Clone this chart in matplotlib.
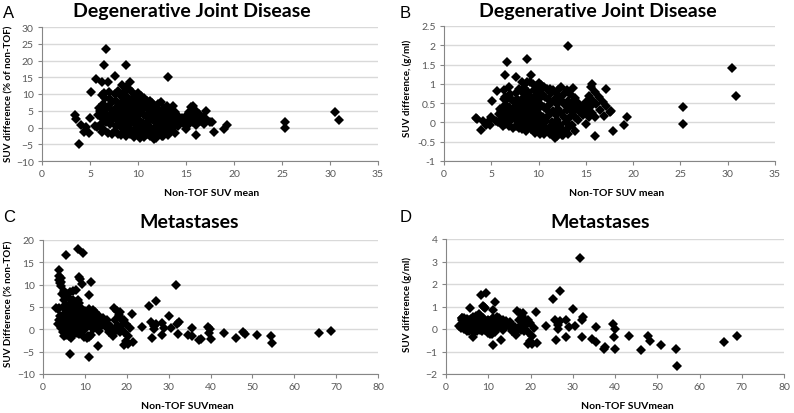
import numpy as np
import matplotlib
matplotlib.use("Agg")
import matplotlib.pyplot as plt

# Degenerative joint disease lesions: non-TOF SUV mean, % difference, absolute difference
djd_suv_mean = [
    3.4, 3.5, 3.9, 4.1, 4.4, 4.6, 4.9, 5.1, 5.0, 5.5, 5.7, 5.6, 5.9, 5.8, 6.3,
    6.5, 6.7, 6.9, 6.3, 6.5, 6.6, 6.7, 6.2, 7.6, 8.3, 8.8, 9.2, 13.1, 25.3, 25.3,
    30.5, 30.9, 19.0, 19.3, 17.9, 17.7, 16.0, 17.1, 15.7, 15.5, 11.7, 12.6, 13.9,
    6.0, 6.1, 6.0, 6.4, 6.5, 6.6, 6.4,
    7.0, 7.1, 6.9, 7.0, 7.1, 6.9,
    7.3, 7.4, 7.3, 7.3,
    7.6, 7.7, 7.6, 7.5, 7.7, 7.6,
    7.9, 8.0, 7.9, 8.0, 7.9,
    8.2, 8.3, 8.2, 8.1, 8.3, 8.2,
    8.5, 8.6, 8.5, 8.4, 8.6, 8.5,
    8.8, 8.9, 8.8, 8.7, 8.9, 8.8, 8.7,
    9.1, 9.0, 9.2, 9.1, 9.0, 9.2,
    9.4, 9.5, 9.4, 9.3, 9.5, 9.4, 9.6,
    9.7, 9.8, 9.7, 9.6, 9.8, 9.7,
    10.0, 10.1, 10.0, 9.9, 10.1, 10.0, 10.2,
    10.3, 10.4, 10.3, 10.2, 10.4, 10.3,
    10.6, 10.7, 10.6, 10.5, 10.7, 10.6,
    10.9, 11.0, 10.9, 10.8, 11.0,
    11.2, 11.3, 11.2, 11.1, 11.3, 11.2,
    11.5, 11.6, 11.5, 11.4, 11.6,
    11.8, 11.9, 11.8, 11.7, 11.9,
    12.1, 12.2, 12.1, 12.0, 12.2,
    12.4, 12.5, 12.4, 12.3, 12.5,
    12.7, 12.8, 12.7, 12.6,
    13.0, 13.1, 13.0, 12.9, 13.1,
    13.3, 13.4, 13.3, 13.2,
    13.6, 13.7, 13.6, 13.5,
    13.9, 14.0, 13.9,
    14.2, 14.3, 14.2,
    14.6, 14.7,
    15.0, 15.1, 15.0,
    15.3, 15.4, 15.3,
    15.8, 15.7,
    16.0, 16.1, 16.0,
    16.4, 16.5,
    16.8, 16.9, 17.1, 17.5,
]
djd_diff_pct = [
    3.6, 2.6, -4.9, 0.8, -1.3, 0.2, -1.5, 10.7, 2.8, 0.5, 0.1, 14.5, 5.8, 3.6, 13.5,
    18.8, 23.5, 13.5, 9.8, 10.2, 8.8, 1.5, -1.4, 15.5, 12.7, 18.7, 13.5, 15.2, 1.6, -0.1,
    4.6, 2.2, -0.3, 0.7, -1.3, 1.7, -2.2, 5.0, 6.4, 6.0, -3.4, -2.5, -1.6,
    5.0, 3.2, 0.8, 7.0, 4.5, 2.0, -0.5,
    10.5, 8.5, 6.0, 3.5, 1.0, -1.5,
    7.5, 4.8, 2.2, -2.0,
    10.0, 8.0, 5.5, 3.0, 0.5, -1.0,
    11.0, 6.8, 4.0, 1.5, -1.8,
    9.5, 7.5, 5.0, 2.5, 0.0, -2.2,
    10.5, 8.5, 6.0, 3.5, 1.0, -1.2,
    12.0, 9.0, 7.0, 4.5, 2.0, -0.5, -2.6,
    11.5, 8.0, 5.5, 3.0, 0.5, -1.8,
    10.5, 8.8, 6.5, 4.0, 1.5, -1.0, -2.8,
    9.8, 7.5, 5.0, 2.5, 0.0, -2.2,
    10.2, 8.5, 6.0, 3.5, 1.0, -1.5, -3.0,
    9.5, 7.0, 4.5, 2.0, -0.5, -2.5,
    8.8, 6.2, 3.8, 1.2, -1.2, -2.8,
    8.0, 5.5, 3.0, 0.5, -2.0,
    7.8, 6.8, 4.2, 1.8, -0.8, -2.6,
    7.2, 5.0, 2.5, 0.0, -1.8,
    6.5, 4.0, 1.5, -1.0, -3.0,
    7.0, 5.2, 3.0, 0.5, -2.0,
    7.5, 4.5, 2.0, -0.5, -2.6,
    5.8, 3.5, 1.0, -1.5,
    6.5, 4.2, 2.5, 0.0, -2.2,
    5.5, 3.0, 1.0, -1.0,
    6.5, 4.0, 2.0, -0.5,
    4.5, 3.0, 1.0,
    3.5, 2.0, 0.5,
    2.8, 1.2,
    3.5, 2.0, -0.3,
    4.5, 2.5, 1.0,
    3.5, 1.5,
    5.0, 3.0, 0.8,
    4.0, 2.0,
    3.2, 1.0, 2.5, 1.5,
]
djd_diff_abs = [
    0.12, 0.09, -0.19, 0.03, -0.06, 0.01, -0.07, 0.55, 0.14, 0.03, 0.01, 0.81, 0.34, 0.21, 0.85,
    1.22, 1.57, 0.93, 0.62, 0.66, 0.58, 0.10, -0.09, 1.18, 1.05, 1.65, 1.24, 1.99, 0.40, -0.03,
    1.40, 0.68, -0.06, 0.14, -0.23, 0.30, -0.35, 0.86, 1.00, 0.93, -0.40, -0.32, -0.22,
    0.30, 0.20, 0.05, 0.45, 0.29, 0.13, -0.03,
    0.74, 0.60, 0.41, 0.25, 0.07, -0.10,
    0.55, 0.36, 0.16, -0.15,
    0.76, 0.62, 0.42, 0.23, 0.04, -0.08,
    0.87, 0.54, 0.32, 0.12, -0.14,
    0.78, 0.62, 0.41, 0.20, 0.00, -0.18,
    0.89, 0.73, 0.51, 0.29, 0.09, -0.10,
    1.06, 0.80, 0.62, 0.39, 0.18, -0.04, -0.23,
    1.05, 0.72, 0.51, 0.27, 0.05, -0.17,
    0.99, 0.84, 0.61, 0.37, 0.14, -0.09, -0.27,
    0.95, 0.74, 0.49, 0.24, 0.00, -0.21,
    1.02, 0.86, 0.60, 0.35, 0.10, -0.15, -0.31,
    0.98, 0.73, 0.46, 0.20, -0.05, -0.26,
    0.93, 0.66, 0.40, 0.13, -0.13, -0.30,
    0.87, 0.61, 0.33, 0.05, -0.22,
    0.87, 0.77, 0.47, 0.20, -0.09, -0.29,
    0.83, 0.58, 0.29, 0.00, -0.21,
    0.77, 0.48, 0.18, -0.12, -0.36,
    0.85, 0.63, 0.36, 0.06, -0.24,
    0.93, 0.56, 0.25, -0.06, -0.33,
    0.74, 0.45, 0.13, -0.19,
    0.85, 0.55, 0.33, 0.00, -0.29,
    0.73, 0.40, 0.13, -0.13,
    0.88, 0.55, 0.27, -0.07,
    0.63, 0.42, 0.14,
    0.50, 0.29, 0.07,
    0.41, 0.18,
    0.53, 0.30, -0.05,
    0.69, 0.39, 0.15,
    0.55, 0.24,
    0.80, 0.48, 0.13,
    0.66, 0.33,
    0.54, 0.17, 0.43, 0.26,
]

# Metastases: non-TOF SUVmean, % difference, absolute difference
met_suv_mean = [
    68.8, 65.8, 54.4, 54.6, 51.0, 48.3, 47.7, 46.2, 43.3, 39.5, 39.9, 39.7, 40.0,
    37.3, 37.7, 35.5, 35.5, 34.6, 32.5, 32.1, 32.3, 31.7, 30.1, 30.5, 28.4, 29.0,
    28.4, 26.9, 25.4, 25.9, 27.1, 26.6, 26.1, 26.5, 23.6, 21.2, 21.6, 20.8, 20.3,
    19.4, 5.6, 8.4, 9.5, 11.5, 11.1, 6.5, 11.1, 13.1, 8.7, 9.3, 8.9,
    3.0, 3.5, 3.6, 3.8, 3.9, 3.8, 4.0, 3.9, 3.8,
    4.2, 4.3, 4.2, 4.1, 4.3, 4.2,
    4.6, 4.7, 4.6, 4.5, 4.7,
    5.0, 5.1, 5.0, 4.9, 5.1, 5.0,
    5.4, 5.5, 5.4, 5.3, 5.5,
    5.8, 5.9, 5.8, 5.7,
    6.2, 6.3, 6.2, 6.1, 6.3, 6.2,
    6.5, 6.6, 6.5, 6.4,
    6.8, 6.9, 6.8, 6.7,
    7.1, 7.2, 7.1, 7.0,
    7.5, 7.6, 7.5, 7.4,
    7.8, 7.9, 7.8, 7.7, 7.9,
    8.1, 8.2, 8.1, 8.0,
    8.4, 8.5, 8.4,
    8.7, 8.8, 8.7, 8.6,
    9.0, 9.1, 9.0,
    9.3, 9.4, 9.3,
    9.7, 9.8,
    10.0, 10.1, 10.0, 9.9,
    10.4, 10.5, 10.4,
    10.8, 10.9, 10.8,
    11.1, 11.2, 11.0,
    11.5, 11.6, 11.5,
    12.0, 12.1, 12.0,
    12.5, 12.6,
    13.0, 13.1,
    13.4, 13.4,
    13.8, 13.9,
    14.3, 14.4, 14.8,
    15.2, 15.3, 15.6, 15.7,
    16.3, 16.4, 16.6, 16.6, 16.9,
    17.3, 17.3, 17.6, 17.7,
    18.0, 18.1, 18.3, 18.4,
    18.8, 18.9, 19.4, 19.3, 19.9, 19.9, 20.4,
]
met_diff_pct = [
    -0.45, -0.9, -1.6, -3.0, -1.35, -1.1, -0.65, -2.0, -0.75, 0.6, 0.05, -0.85, -2.2,
    -2.35, -2.15, 0.2, -1.6, -1.3, 1.7, 1.2, -1.1, 10.0, 3.0, 0.4, 1.4, 0.35,
    -1.3, 6.3, 5.3, 1.6, 1.3, 0.05, -1.9, 0.7, 0.6, 3.5, -2.9, 0.2, -3.3,
    -3.5, 16.6, 17.9, 17.1, 10.5, 7.6, -5.6, -6.3, -3.8, 11.8, 10.1, 11.2,
    4.7, 4.5, 1.2, 13.3, 12.0, 11.0, 10.3, 4.8, 2.0,
    11.5, 10.5, 9.8, 3.0, 1.0, 0.3,
    8.0, 5.0, 2.5, 1.5, -0.5,
    8.5, 6.5, 3.5, 2.0, 0.8, -1.5,
    7.5, 5.5, 3.0, 1.2, -1.2,
    8.0, 4.5, 2.2, 0.5,
    7.0, 5.2, 3.5, 1.8, 0.0, -1.5,
    8.3, 6.0, 2.8, 1.0,
    4.5, 2.0, -0.5, -2.0,
    8.5, 6.5, 3.5, 1.5,
    5.5, 3.0, 0.8, -1.0,
    8.7, 6.2, 4.0, 2.0, 0.2,
    5.0, 2.8, 1.2, -0.8,
    6.5, 4.5, 2.0,
    5.8, 3.5, 1.0, -1.0,
    4.8, 2.5, 0.5,
    4.0, 1.8, -0.5,
    3.2, 1.2,
    4.2, 2.0, 0.0, -1.8,
    3.5, 1.0, -2.0,
    4.0, 2.5, -1.5,
    4.6, 1.5, -1.8,
    3.0, 0.5, -1.2,
    4.3, 2.0, 0.0,
    3.8, 1.2,
    2.5, 0.8,
    2.9, -0.4,
    2.0, 0.8,
    2.5, 1.5, 1.0,
    2.0, 0.2, 1.3, -0.5,
    0.6, -1.0, -1.6, -0.3, 4.7,
    2.2, 0.4, 4.0, -0.2,
    0.7, 3.2, 3.9, -0.6,
    2.2, 1.0, 2.0, -0.6, -2.7, 1.3, -1.5,
]
met_diff_abs = [
    -0.31, -0.59, -0.87, -1.64, -0.69, -0.53, -0.31, -0.92, -0.32, 0.24, 0.02, -0.34, -0.88,
    -0.88, -0.81, 0.07, -0.57, -0.45, 0.55, 0.39, -0.36, 3.17, 0.90, 0.12, 0.40, 0.10,
    -0.37, 1.69, 1.35, 0.41, 0.35, 0.01, -0.50, 0.19, 0.14, 0.74, -0.63, 0.04, -0.67,
    -0.68, 0.93, 1.50, 1.62, 1.21, 0.84, -0.36, -0.70, -0.50, 1.03, 0.94, 1.00,
    0.14, 0.16, 0.04, 0.51, 0.47, 0.42, 0.41, 0.19, 0.08,
    0.48, 0.45, 0.41, 0.12, 0.04, 0.01,
    0.37, 0.24, 0.12, 0.07, -0.02,
    0.43, 0.33, 0.18, 0.10, 0.04, -0.08,
    0.41, 0.30, 0.16, 0.06, -0.07,
    0.46, 0.27, 0.13, 0.03,
    0.43, 0.33, 0.22, 0.11, 0.00, -0.09,
    0.54, 0.40, 0.18, 0.06,
    0.31, 0.14, -0.03, -0.13,
    0.60, 0.47, 0.25, 0.11,
    0.41, 0.23, 0.06, -0.07,
    0.68, 0.49, 0.31, 0.15, 0.02,
    0.41, 0.23, 0.10, -0.06,
    0.55, 0.38, 0.17,
    0.50, 0.31, 0.09, -0.09,
    0.43, 0.23, 0.05,
    0.37, 0.17, -0.05,
    0.31, 0.12,
    0.42, 0.20, 0.00, -0.18,
    0.36, 0.11, -0.21,
    0.43, 0.27, -0.16,
    0.51, 0.17, -0.20,
    0.35, 0.06, -0.14,
    0.52, 0.24, 0.00,
    0.48, 0.15,
    0.33, 0.10,
    0.39, -0.05,
    0.28, 0.11,
    0.36, 0.22, 0.15,
    0.30, 0.03, 0.20, -0.08,
    0.10, -0.16, -0.27, -0.05, 0.79,
    0.38, 0.07, 0.70, -0.04,
    0.13, 0.58, 0.71, -0.11,
    0.41, 0.19, 0.39, -0.12, -0.54, 0.26, -0.31,
]

panel_letters = ["A", "B", "C", "D"]
panel_titles = ["Degenerative Joint Disease", "Degenerative Joint Disease",
                "Metastases", "Metastases"]
y_labels = ["SUV difference (% of non-TOF)", "SUV difference, (g/ml)",
            "SUV Difference (% non-TOF)", "SUV difference (g/ml)"]
x_labels = ["Non-TOF SUV mean", "Non-TOF SUV mean", "Non-TOF SUVmean", "Non-TOF SUVmean"]

W, H = 794, 414
TICK_COLOR = "#595959"
GRID_COLOR = "#d9d9d9"
AXIS_COLOR = "#868686"


def px_box(left, top, right, bottom):
    return [left / W, 1 - bottom / H, (right - left) / W, (bottom - top) / H]


def style_axes(ax, xlim, xstep, ylim, ystep):
    ax.set_xlim(*xlim)
    ax.set_ylim(*ylim)
    ax.set_xticks(np.arange(xlim[0], xlim[1] + xstep / 2, xstep))
    ax.set_yticks(np.arange(ylim[0], ylim[1] + ystep / 2, ystep))
    ax.yaxis.grid(True, color=GRID_COLOR, linewidth=1.0)
    ax.set_axisbelow(True)
    for side in ("top", "right"):
        ax.spines[side].set_visible(False)
    for side in ("left", "bottom"):
        ax.spines[side].set_color(AXIS_COLOR)
        ax.spines[side].set_linewidth(0.8)
    ax.tick_params(axis="both", direction="out", length=3, width=0.8,
                   color=AXIS_COLOR, labelcolor=TICK_COLOR, labelsize=7.5, pad=3)
    for lab in ax.get_xticklabels() + ax.get_yticklabels():
        lab.set_fontfamily("Lato")


fig = plt.figure(figsize=(W / 100, H / 100), dpi=100)

panels = [
    dict(box=(42, 28, 378, 162), x=djd_suv_mean, y=djd_diff_pct,
         xlim=(0, 35), xstep=5, ylim=(-10, 30), ystep=5, fmt=None),
    dict(box=(444, 27, 775, 162), x=djd_suv_mean, y=djd_diff_abs,
         xlim=(0, 35), xstep=5, ylim=(-1, 2.5), ystep=0.5, fmt="{:g}"),
    dict(box=(43, 241, 378, 375), x=met_suv_mean, y=met_diff_pct,
         xlim=(0, 80), xstep=10, ylim=(-10, 20), ystep=5, fmt=None),
    dict(box=(446, 240, 784, 375), x=met_suv_mean, y=met_diff_abs,
         xlim=(0, 80), xstep=10, ylim=(-2, 4), ystep=1, fmt=None),
]

# text anchors in pixel coordinates: (letter x, letter y, title x, title y, ylabel x, ylabel y, xlabel x, xlabel y)
text_pos = [
    (3, 13, 192, 12, 9, 94, 212, 193),
    (400, 13, 598, 12, 407, 88, 617, 193),
    (3, 218, 189, 222, 9, 304, 187, 407),
    (400, 218, 600, 222, 407, 304, 627, 407),
]

for i, p in enumerate(panels):
    ax = fig.add_axes(px_box(*p["box"]))
    ax.plot(p["x"], p["y"], linestyle="none", marker="D", markersize=4.8,
            color="black", markeredgewidth=0)
    style_axes(ax, p["xlim"], p["xstep"], p["ylim"], p["ystep"])
    if p["fmt"]:
        ax.set_yticklabels([p["fmt"].format(v) for v in ax.get_yticks()],
                           fontfamily="Lato")

    lx, ly, tx, ty, ylx, yly, xlx, xly = text_pos[i]
    fig.text(lx / W, 1 - ly / H, panel_letters[i], fontsize=12,
             family="Liberation Sans", ha="left", va="center")
    fig.text(tx / W, 1 - ty / H, panel_titles[i], fontsize=14,
             family="Lato", fontweight="bold", ha="center", va="center")
    fig.text(ylx / W, 1 - yly / H, y_labels[i], fontsize=7, family="Lato",
             fontweight="bold", rotation=90, ha="center", va="center")
    fig.text(xlx / W, 1 - xly / H, x_labels[i], fontsize=7.5, family="Lato",
             fontweight="bold", ha="center", va="center")

fig.savefig("out.png", dpi=100, facecolor="white")
